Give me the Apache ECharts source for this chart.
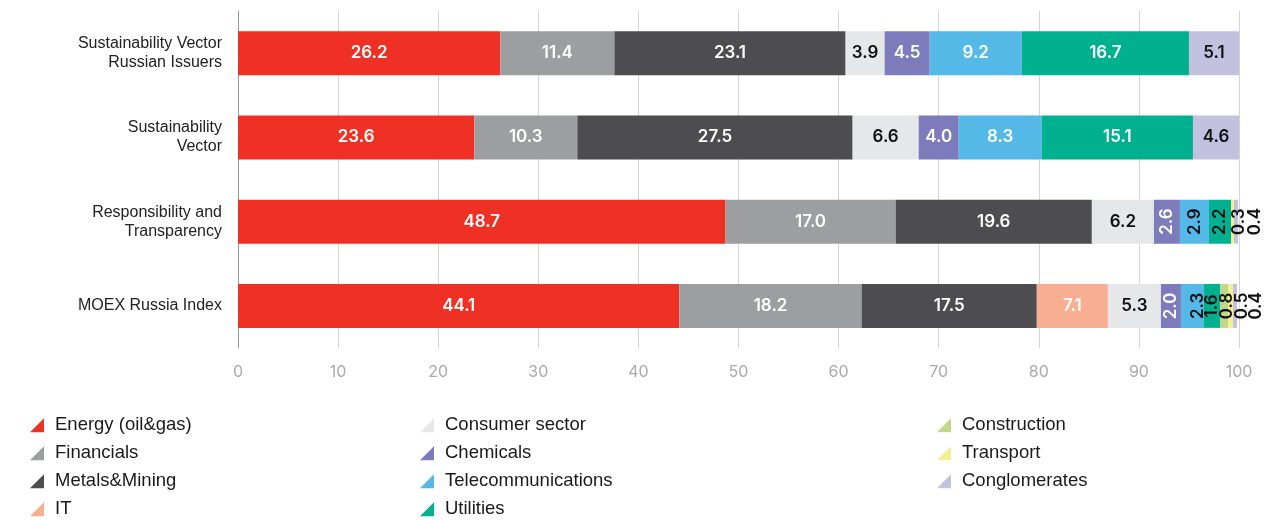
<!DOCTYPE html>
<html>
<head>
<meta charset="utf-8">
<script src="https://cdn.jsdelivr.net/npm/echarts@6/dist/echarts.min.js"></script>
<style>
html,body{margin:0;padding:0;background:#fff;}
#chart{width:1271px;height:520px;}
</style>
</head>
<body>
<div id="chart"></div>
<script>
// ---- data ----
var categories = ['Sustainability Vector\nRussian Issuers', 'Sustainability\nVector', 'Responsibility and\nTransparency', 'MOEX Russia Index'];
var sectorNames = ['Energy (oil&gas)', 'Financials', 'Metals&Mining', 'IT', 'Consumer sector', 'Chemicals', 'Telecommunications', 'Utilities', 'Construction', 'Transport', 'Conglomerates'];
var energy        = [26.2, 23.6, 48.7, 44.1];
var financials    = [11.4, 10.3, 17.0, 18.2];
var metalsMining  = [23.1, 27.5, 19.6, 17.5];
var it            = [null, null, null, 7.1];
var consumer      = [3.9, 6.6, 6.2, 5.3];
var chemicals     = [4.5, 4.0, 2.6, 2.0];
var telecom       = [9.2, 8.3, 2.9, 2.3];
var utilities     = [16.7, 15.1, 2.2, 1.6];
var construction  = [null, null, null, 0.8];
var transport     = [null, null, 0.3, 0.5];
var conglomerates = [5.1, 4.6, 0.4, 0.4];
var xTicks = [0, 10, 20, 30, 40, 50, 60, 70, 80, 90, 100];

// ---- styles ----
var seriesValues = [energy, financials, metalsMining, it, consumer, chemicals, telecom, utilities, construction, transport, conglomerates];
var colors = ['#ee3124', '#9d9ea0', '#4d4d4f', '#f7ae91', '#e6e7e8', '#7d7bbc', '#55b9e8', '#00b08e', '#bdd88b', '#f3ef92', '#c2c1e0'];
var labelColors = ['#fff', '#fff', '#fff', '#fff', '#111', '#fff', '#fff', '#fff', '#111', '#111', '#111'];
var rotatedLabelColors = ['#fff', '#fff', '#fff', '#fff', '#111', '#fff', '#111', '#111', '#111', '#111', '#111'];
// extra horizontal shift (px) for crowded rotated labels: key "seriesIndex|row"
var labelShift = { '9|2': 6, '10|2': 19, '6|3': 5, '8|3': 3, '9|3': 11, '10|3': 21 };

var barFont = 'Inter, "Open Sans", sans-serif';

var series = seriesValues.map(function (vals, si) {
  return {
    name: sectorNames[si],
    type: 'bar',
    stack: 'total',
    barWidth: 44,
    itemStyle: { color: colors[si] },
    emphasis: { disabled: true },
    data: vals.map(function (v, ri) {
      if (v === null) return null;
      var small = v < 3;
      var shift = labelShift[si + '|' + ri] || 0;
      return {
        value: v,
        label: {
          show: true,
          position: 'inside',
          rotate: small ? 90 : 0,
          offset: small ? [0, shift] : [0, 0],
          color: small ? rotatedLabelColors[si] : labelColors[si],
          fontFamily: barFont,
          fontWeight: 600,
          fontSize: 17,
          formatter: function (p) { return p.value.toFixed(1); }
        }
      };
    })
  };
});

function legendFor(names, left) {
  return {
    orient: 'vertical',
    left: left,
    top: 415.75,
    padding: 0,
    itemWidth: 16,
    itemHeight: 14,
    itemGap: 9,
    icon: 'path://M1,0 L1,1 L0,1 Z',
    selectedMode: false,
    textStyle: { fontFamily: '"Liberation Sans", Arial, sans-serif', fontSize: 18.5, lineHeight: 18.5, color: '#1a1a1a', padding: [0, 0, 0, 5] },
    data: names
  };
}

var option = {
  animation: false,
  backgroundColor: '#fff',
  grid: { left: 238, right: 32, top: 11, bottom: 172, containLabel: false },
  xAxis: {
    type: 'value',
    min: xTicks[0],
    max: xTicks[xTicks.length - 1],
    interval: xTicks[1] - xTicks[0],
    axisLine: { show: false },
    axisTick: { show: false },
    splitLine: { show: true, lineStyle: { color: '#d4d4d4', width: 1 } },
    axisLabel: { color: '#aaaaaa', fontSize: 16, fontFamily: barFont, margin: 16 }
  },
  yAxis: {
    type: 'category',
    inverse: true,
    data: categories,
    axisLine: { show: true, lineStyle: { color: '#9a9a9a', width: 1 } },
    axisTick: { show: false },
    axisLabel: { color: '#222', fontSize: 16, lineHeight: 19, fontFamily: '"Liberation Sans", Arial, sans-serif', margin: 16, align: 'right' }
  },
  legend: [
    legendFor(sectorNames.slice(0, 4), 30),
    legendFor(sectorNames.slice(4, 8), 420),
    legendFor(sectorNames.slice(8, 11), 937)
  ],
  series: series
};

var chart = echarts.init(document.getElementById('chart'), null, { renderer: 'canvas' });
chart.setOption(option);
</script>
</body>
</html>
